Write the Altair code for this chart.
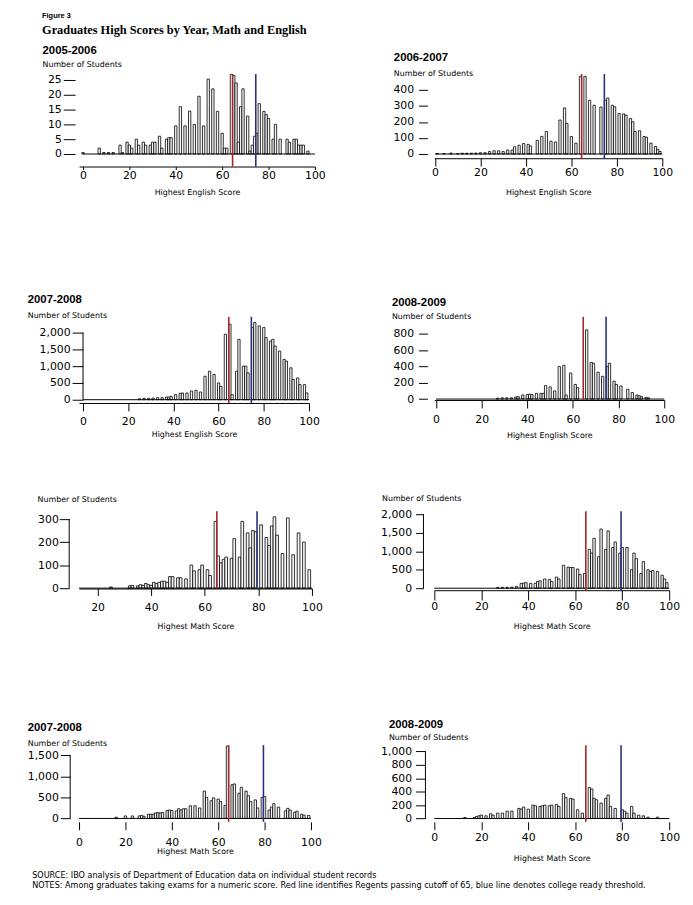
import altair as alt
import pandas as pd

# ---------------- data ----------------
eng_0506_scores = [0, 7, 9, 11, 13, 16, 17, 19, 20, 21, 23, 24, 26, 27, 29, 30, 31, 33, 34, 36, 37, 38, 40, 42, 44,
                   46, 48, 50, 52, 54, 56, 58, 60, 61, 62, 64, 65, 66, 67, 68, 69, 71, 72, 73, 74, 75, 76, 78, 79, 80,
                   82, 83, 85, 88, 89, 91, 92, 93, 94, 95, 97]
eng_0506_counts = [0.5, 2, 0.5, 0.5, 0.5, 3, 0.5, 4, 3, 2, 5, 3, 4, 3, 3, 4, 4, 6, 2, 5, 5.5, 5.5, 9.5, 16, 9.5,
                   14.5, 10, 19.5, 9.5, 25.3, 22, 14.4, 7, 2, 2, 26.9, 26.5, 24, 4, 16, 22, 12.8, 1, 3, 6, 7, 17, 14.4,
                   13.3, 12, 5, 10, 5, 5, 4, 5, 5, 3, 3, 3, 1]

eng_0607_scores = [1, 4, 7, 10, 12, 14, 16, 18, 20, 22, 24, 26, 28, 30, 32, 34, 35, 37, 39, 41, 42, 45, 47, 49, 51,
                   53, 55, 57, 58, 60, 62, 64, 66, 68, 70, 73, 75, 76, 78, 79, 81, 83, 84, 86, 87, 88, 90, 92, 93, 95,
                   97, 98, 99]
eng_0607_counts = [3, 3, 6, 3, 5, 5, 5, 6, 8, 8, 15, 20, 20, 15, 25, 25, 45, 55, 65, 60, 50, 85, 110, 140, 80,
                   75, 212, 287, 191, 109, 68, 484, 484, 335, 304, 293, 335, 349, 304, 295, 252, 250, 242, 221, 201,
                   140, 145, 109, 105, 68, 47, 29, 16]

eng_0708_scores = [25, 27, 29, 31, 33, 35, 37, 38, 39, 41, 43, 44, 46, 48, 50, 52, 54, 56, 58, 60, 61, 63, 65, 66,
                   68, 69, 71, 72, 73, 75, 76, 78, 80, 81, 83, 84, 85, 87, 89, 90, 92, 93, 95, 96, 98, 99]
eng_0708_counts = [30, 40, 40, 50, 60, 60, 80, 80, 100, 150, 190, 200, 200, 260, 280, 230, 700, 850, 750, 500, 400,
                   1950, 2250, 150, 850, 1800, 1000, 1000, 800, 2150, 2300, 2200, 2150, 1850, 1750, 1800, 1600, 1450,
                   1200, 1150, 950, 600, 650, 450, 450, 200]

eng_0809_scores = [27, 29, 31, 33, 35, 36, 38, 40, 41, 42, 44, 46, 47, 48, 50, 52, 54, 56, 57, 59, 61, 62, 66, 68,
                   69, 71, 73, 75, 76, 78, 79, 81, 84, 86, 88, 89, 90, 92, 93]
eng_0809_counts = [10, 15, 15, 15, 25, 30, 50, 55, 60, 55, 70, 70, 70, 165, 150, 100, 400, 415, 50, 320, 180, 140,
                   850, 450, 440, 330, 280, 400, 440, 220, 180, 160, 120, 80, 50, 40, 30, 20, 15]

math_a_scores = [25, 32, 33, 35, 36, 37, 38, 39, 40, 41, 42, 43, 44, 45, 46, 47, 48, 50, 51, 53, 55, 56, 58, 59, 61,
                 62, 64, 65, 66, 67, 68, 70, 71, 73, 74, 76, 77, 78, 79, 81, 83, 84, 85, 86, 87, 89, 91, 93, 95, 97,
                 99]
math_a_counts = [5, 10, 12, 10, 15, 12, 20, 15, 12, 25, 20, 25, 30, 30, 25, 50, 50, 45, 45, 40, 100, 75, 80, 100, 80,
                 55, 290, 140, 110, 125, 135, 130, 215, 135, 290, 240, 175, 250, 245, 275, 220, 185, 270, 310, 230,
                 150, 305, 145, 240, 200, 80]

math_b_scores = [27, 29, 31, 33, 35, 37, 38, 39, 41, 43, 44, 45, 47, 49, 50, 52, 53, 55, 57, 58, 59, 61, 62, 64, 66,
                 67, 68, 70, 71, 73, 74, 76, 77, 79, 80, 82, 84, 85, 86, 88, 89, 91, 92, 93, 95, 97, 98, 99]
math_b_counts = [20, 25, 25, 30, 50, 130, 140, 150, 130, 130, 180, 200, 250, 240, 180, 300, 250, 620, 570, 560, 560,
                 520, 370, 400, 1050, 950, 1350, 850, 1600, 1050, 1550, 1100, 1250, 950, 1100, 1100, 500, 950, 800,
                 400, 720, 500, 450, 480, 450, 350, 250, 150]

math_0708_scores = [16, 20, 23, 26, 27, 28, 30, 31, 32, 33, 34, 35, 36, 38, 39, 40, 42, 43, 44, 45, 46, 48, 50, 52,
                    54, 55, 57, 58, 60, 61, 63, 64, 66, 67, 69, 70, 72, 73, 74, 76, 77, 79, 80, 82, 83, 84, 86, 89,
                    90, 91, 93, 94, 96, 97, 99]
math_0708_counts = [30, 60, 60, 60, 70, 50, 100, 100, 100, 130, 140, 130, 140, 190, 200, 190, 180, 230, 200, 230,
                    230, 300, 300, 250, 650, 500, 420, 490, 460, 400, 310, 1720, 800, 820, 600, 740, 650, 540, 400,
                    440, 250, 500, 520, 200, 270, 350, 270, 180, 240, 200, 150, 170, 100, 80, 70]

math_0809_scores = [13, 17, 18, 19, 20, 22, 24, 25, 27, 29, 31, 33, 36, 37, 38, 40, 42, 43, 45, 46, 47, 49, 50, 52,
                    53, 55, 56, 58, 59, 61, 63, 66, 67, 68, 69, 71, 73, 74, 75, 77, 80, 81, 82, 84, 85, 87, 89, 91, 95]
math_0809_counts = [15, 15, 30, 40, 50, 40, 70, 50, 80, 80, 110, 110, 150, 140, 170, 140, 200, 190, 180, 190, 200,
                    190, 200, 210, 180, 370, 310, 300, 290, 130, 80, 460, 440, 300, 280, 230, 300, 350, 180, 150, 130,
                    110, 80, 180, 80, 50, 40, 20, 20]

english_thresholds = [65, 75]   # Regents passing cutoff, college ready
math_thresholds = [65, 80]

x_ticks = [0, 20, 40, 60, 80, 100]

header_small = "Figure 3"
header_main = "Graduates High Scores by Year, Math and English"
notes = ["SOURCE: IBO analysis of Department of Education data on individual student records",
         "NOTES: Among graduates taking exams for a numeric score. Red line identifies Regents passing cutoff of 65, "
         "blue line denotes college ready threshold."]

RED = "#a8242a"
BLUE = "#2b2f7e"
SANS = "DejaVu Sans"

# layout: k = pixels per student, axpx = x-axis line distance (px) from plot top
panels = [
    dict(title="2005-2006", scores=eng_0506_scores, counts=eng_0506_counts, th=english_thresholds,
         xtitle="Highest English Score", xmin=-1.7, width=239, ymax=27, k=3.0, height=137.5, axpx=93.7,
         yticks=[0, 5, 10, 15, 20, 25], yoff=4, ytick=12, ypad=2, yline=False,
         xticks=x_ticks, xtick=3, xpad=0, xdomain=True, xtpad=8,
         tdx=-37, toff=4, spad=5.5),
    dict(title="2006-2007", scores=eng_0607_scores, counts=eng_0607_counts, th=english_thresholds,
         xtitle="Highest English Score", xmin=-0.3, width=231, ymax=498.5, k=0.1625, height=137.5, axpx=85.3,
         yticks=[0, 100, 200, 300, 400], yoff=7, ytick=9, ypad=5, yline=False,
         xticks=x_ticks, xtick=8, xpad=1, xdomain=True, xtpad=11,
         tdx=-41, toff=-4.7, spad=6.5),
    dict(title="2007-2008", scores=eng_0708_scores, counts=eng_0708_counts, th=english_thresholds,
         xtitle="Highest English Score", xmin=-1.75, width=233, ymax=2470, k=0.034, height=88.5, axpx=87.3,
         yticks=[0, 500, 1000, 1500, 2000], yoff=-4, ytick=11, ypad=2, yline=True,
         xticks=x_ticks, xtick=8, xpad=5, xdomain=True, xtpad=4,
         tdx=-52, toff=-3.8, spad=6.5),
    dict(title="2008-2009", scores=eng_0809_scores, counts=eng_0809_counts, th=english_thresholds,
         xtitle="Highest English Score", xmin=-0.74, width=233, ymax=1010, k=0.0825, height=88.5, axpx=84.3,
         yticks=[0, 200, 400, 600, 800], yoff=7, ytick=9, ypad=5, yline=False,
         xticks=x_ticks, xtick=8, xpad=5.5, xdomain=True, xtpad=7.5,
         tdx=-43, toff=-4.5, spad=3.8),
    dict(title=None, scores=math_a_scores, counts=math_a_counts, th=math_thresholds,
         xtitle="Highest Math Score", xmin=13.1, width=236, ymax=334, k=0.2333, height=129, axpx=78.3,
         yticks=[0, 100, 200, 300], yoff=10, ytick=10, ypad=1, yline=True,
         xticks=[20, 40, 60, 80, 100], xtick=7, xpad=6, xdomain=True, xtpad=10.5,
         tdx=-42, toff=6.7, spad=0),
    dict(title=None, scores=math_b_scores, counts=math_b_counts, th=math_thresholds,
         xtitle="Highest Math Score", xmin=0, width=238, ymax=2080, k=0.0375, height=129, axpx=80,
         yticks=[0, 500, 1000, 1500, 2000], yoff=11, ytick=8, ypad=4, yline=True,
         xticks=x_ticks, xtick=10, xpad=1, xdomain=True, xtpad=10.5,
         tdx=-53, toff=5.2, spad=0),
    dict(title="2007-2008", scores=math_0708_scores, counts=math_0708_counts, th=math_thresholds,
         xtitle="Highest Math Score", xmin=0, width=235, ymax=1741, k=0.04267, height=77, axpx=77.7,
         yticks=[0, 500, 1000, 1500], yoff=9, ytick=10, ypad=2, yline=True,
         xticks=x_ticks, xtick=8, xpad=6.5, xdomain=False, xtpad=0.5,
         tdx=-52, toff=-3.8, spad=6.5),
    dict(title="2008-2009", scores=math_0809_scores, counts=math_0809_counts, th=math_thresholds,
         xtitle="Highest Math Score", xmin=0, width=238, ymax=1093, k=0.068, height=77, axpx=77.7,
         yticks=[0, 200, 400, 600, 800, 1000], yoff=9, ytick=10, ypad=4, yline=True,
         xticks=x_ticks, xtick=8, xpad=2, xdomain=False, xtpad=12,
         tdx=-46, toff=2, spad=3.8),
]


def build_panel(p):
    bars = pd.DataFrame({"score": p["scores"], "count": p["counts"]})
    bars["lo"] = bars["score"] - 0.5
    bars["hi"] = bars["score"] + 0.5
    bars["base"] = 0.0

    h = p["height"]
    k = p["k"]
    ymax = p["ymax"]
    ymin = ymax - h / k
    xoff = p["axpx"] - h
    axis_val = ymax - p["axpx"] / k  # data value at the x-axis line

    xscale = alt.Scale(domain=[p["xmin"], 100], nice=False, zero=False)
    yscale = alt.Scale(domain=[ymin, ymax], nice=False, zero=False)
    xaxis = alt.Axis(values=p["xticks"], title=p["xtitle"], offset=xoff, tickSize=p["xtick"],
                     labelPadding=p["xpad"], domain=p["xdomain"], titlePadding=p["xtpad"], grid=False,
                     labelFlush=False, labelOverlap=False, format="d")
    yaxis = alt.Axis(values=p["yticks"], title=None, offset=p["yoff"], tickSize=p["ytick"],
                     labelPadding=p["ypad"], domain=False, grid=False, labelFlush=False,
                     labelOverlap=False, format=",d")

    def X(f):
        return alt.X(f, type="quantitative", scale=xscale, axis=xaxis)

    def Y(f):
        return alt.Y(f, type="quantitative", scale=yscale, axis=yaxis)

    layers = [
        alt.Chart(bars).mark_rect(fill="#f7f7f7", stroke="black", strokeWidth=0.8).encode(
            x=X("lo"), x2="hi", y=Y("count"), y2="base"),
        alt.Chart(pd.DataFrame({"x0": [max(p["xmin"], 0)], "x1": [100], "y": [0]})).mark_rule(
            color="black", strokeWidth=1).encode(x=X("x0"), x2="x1", y=Y("y")),
    ]
    for thr, col in zip(p["th"], [RED, BLUE]):
        df = pd.DataFrame({"pos": [thr - 0.5], "top": [ymax], "bot": [axis_val]})
        layers.append(alt.Chart(df).mark_rule(color=col, strokeWidth=1.6).encode(
            x=X("pos"), y=Y("top"), y2="bot"))
    if p["yline"]:
        df = pd.DataFrame({"a": [0], "b": [max(p["yticks"])]})
        layers.append(alt.Chart(df).mark_rule(color="black", strokeWidth=1).encode(
            x=alt.value(-p["yoff"]), y=Y("a"), y2="b"))

    if p["title"]:
        title = alt.TitleParams(text=p["title"], subtitle="Number of Students", anchor="start", frame="group",
                                dx=p["tdx"], offset=p["toff"], font="Liberation Sans", fontSize=11.5,
                                fontWeight="bold", color="black", subtitleFont=SANS, subtitleFontSize=8,
                                subtitleColor="black", subtitlePadding=p["spad"])
    else:
        title = alt.TitleParams(text="Number of Students", anchor="start", frame="group", dx=p["tdx"],
                                offset=p["toff"], font=SANS, fontSize=8, fontWeight="normal", color="black")
    return alt.layer(*layers).properties(width=p["width"], height=h, title=title)


grid = alt.concat(*[build_panel(p) for p in panels], columns=2,
                  spacing={"row": 108, "column": 121}, bounds="flush", align="each").properties(
    title=alt.TitleParams(text=header_small, subtitle=header_main, anchor="start", dx=15, offset=8,
                          font="Liberation Sans", fontSize=7.5, fontWeight="bold", color="black",
                          subtitleFont="Liberation Serif", subtitleFontSize=12.5, subtitleFontWeight="bold",
                          subtitleColor="black", subtitlePadding=5))

chart = alt.vconcat(grid).properties(
    title=alt.TitleParams(text=notes, orient="bottom", anchor="start", dx=5, offset=10, font=SANS,
                          fontSize=8.2, fontWeight="normal", color="black", lineHeight=10.5),
    padding={"left": 19, "top": -2, "right": 5, "bottom": 5},
).configure_view(stroke=None).configure_axis(
    labelFont=SANS, labelFontSize=11, labelColor="black", titleFont=SANS, titleFontSize=8,
    titleFontWeight="normal", titleColor="black", domainColor="black", tickColor="black",
    domainWidth=1, tickWidth=1)

chart.save("out.html", embed_options={"renderer": "svg", "actions": False})
